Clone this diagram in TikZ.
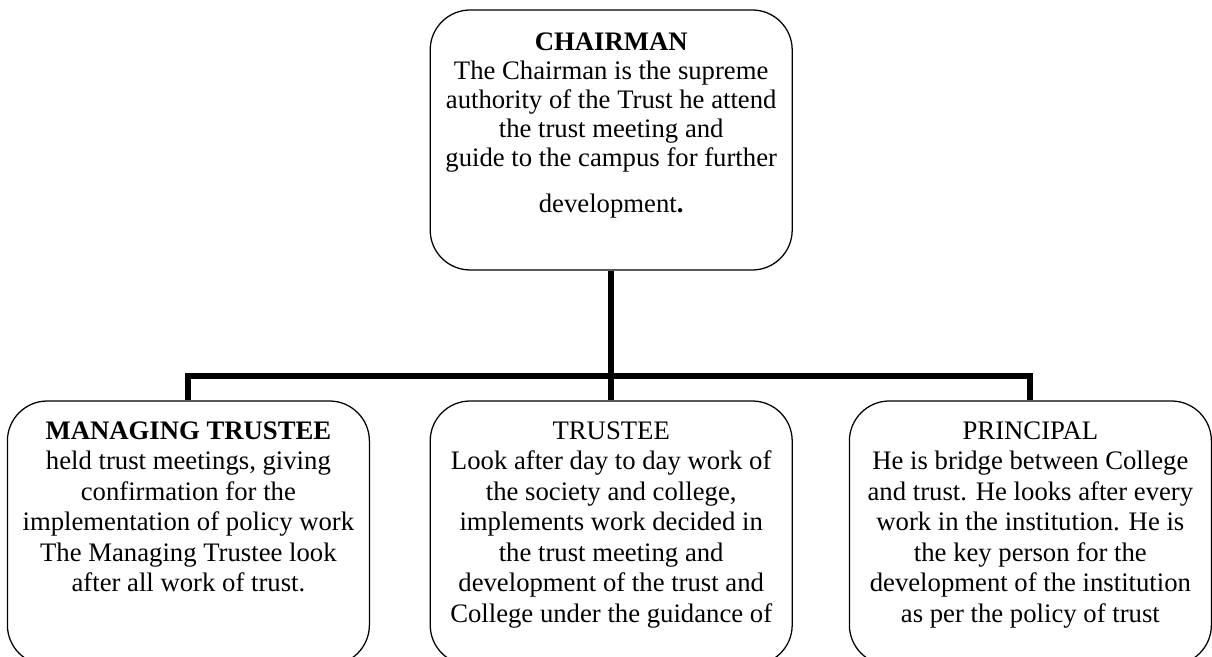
\documentclass[tikz,border=0pt]{standalone}
\usepackage{fontspec}
\setmainfont{Liberation Serif}
\usetikzlibrary{positioning}
\tikzset{
      card/.style = { draw, line width=0.9pt, rounded corners=1cm,
                      minimum width=9.05cm, minimum height=6.6cm },
  cardtext/.style = { align=center, anchor=north, inner sep=0pt,
                      font=\fontsize{19}{21.7}\selectfont },
      link/.style = { line width=4.3pt },
}
\newcommand*{\toptext}{\fontsize{19}{20.7}\selectfont}

\begin{document}
\begin{tikzpicture}
  \useasboundingbox (0,0) rectangle (30.3,16.425);
  % boxes
  \node[card, minimum height=6.5cm] (chair) at (15.28,12.925) {};
  \node[card] (mtrustee)  at (4.71,3.1)  {};
  \node[card] (trustee)   at (15.28,3.1) {};
  \node[card] (principal) at (25.76,3.1) {};

  % texts
  \node[cardtext, font=\toptext, below=0.58cm of chair.north] (chairtext)
    {\textbf{CHAIRMAN}\\
     The Chairman is the supreme\\
     authority of the Trust he attend\\
     the trust meeting and\\
     guide to the campus for further\\[0.42cm]
     development\textbf{.}};
  \node[cardtext, below=0.52cm of mtrustee.north] (mtrusteetext)
    {\textbf{MANAGING TRUSTEE}\\
     held trust meetings, giving\\
     confirmation for the\\
     implementation of policy work\\
     The Managing Trustee look\\
     after all work of trust.};
  \node[cardtext, below=0.52cm of trustee.north] (trusteetext)
    {TRUSTEE\\
     Look after day to day work of\\
     the society and college,\\
     implements work decided in\\
     the trust meeting and\\
     development of the trust and\\
     College under the guidance of};
  \node[cardtext, below=0.52cm of principal.north] (principaltext)
    {PRINCIPAL\\
     He is bridge between College\\
     and trust. He looks after every\\
     work in the institution. He is\\
     the key person for the\\
     development of the institution\\
     as per the policy of trust};

  % connectors
  \draw[link] (chair.south) -- (trustee.north);
  \draw[link] (mtrustee.north) -- ++(0,0.6) -| (principal.north);
\end{tikzpicture}
\end{document}
